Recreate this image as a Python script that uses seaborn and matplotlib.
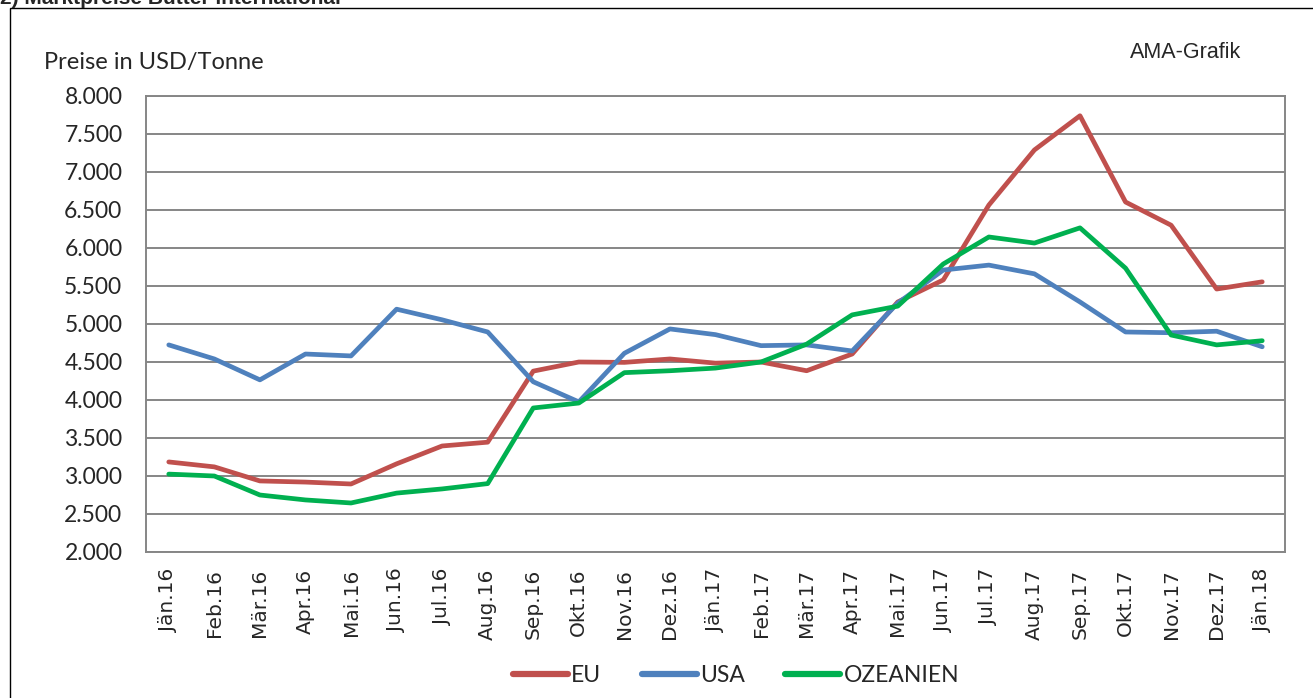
import numpy as np
import pandas as pd
import seaborn as sns
import matplotlib.pyplot as plt
from matplotlib.patches import Rectangle
from matplotlib.ticker import FixedLocator, FuncFormatter

# Marktpreise Butter international, USD/Tonne
months = ['Jän.16', 'Feb.16', 'Mär.16', 'Apr.16', 'Mai.16', 'Jun.16', 'Jul.16', 'Aug.16',
          'Sep.16', 'Okt.16', 'Nov.16', 'Dez.16', 'Jän.17', 'Feb.17', 'Mär.17', 'Apr.17',
          'Mai.17', 'Jun.17', 'Jul.17', 'Aug.17', 'Sep.17', 'Okt.17', 'Nov.17', 'Dez.17', 'Jän.18']
eu = [3185, 3120, 2935, 2920, 2895, 3160, 3395, 3445, 4380, 4500, 4495, 4540, 4485,
      4500, 4385, 4605, 5290, 5580, 6565, 7290, 7740, 6605, 6300, 5460, 5555]
usa = [4725, 4540, 4265, 4605, 4580, 5195, 5055, 4895, 4240, 3975, 4615, 4935, 4860,
       4715, 4725, 4645, 5275, 5710, 5775, 5660, 5290, 4895, 4885, 4905, 4700]
ozeanien = [3025, 3000, 2750, 2685, 2645, 2775, 2830, 2900, 3895, 3960, 4360, 4385, 4420,
            4500, 4735, 5120, 5235, 5790, 6145, 6065, 6265, 5735, 4855, 4725, 4780]

df = pd.DataFrame({'pos': np.arange(len(months)), 'EU': eu, 'USA': usa, 'OZEANIEN': ozeanien})
long = df.melt(id_vars='pos', var_name='Region', value_name='Preis')

sns.set_style('white')
plt.rcParams['font.family'] = ['Lato', 'DejaVu Sans']

fig = plt.figure(figsize=(13.13, 6.98), dpi=100)
ax = fig.add_axes([146 / 1313, 1 - 552 / 698, (1285 - 146) / 1313, (552 - 96) / 698])

pal = {'EU': '#C0504D', 'USA': '#4F81BD', 'OZEANIEN': '#00B050'}
sns.lineplot(data=long, x='pos', y='Preis', hue='Region', palette=pal, linewidth=3.4,
             ax=ax, legend=True)

ax.set_xlim(-0.5, len(months) - 0.5)
ax.set_ylim(2000, 8000)
ax.set_yticks(np.arange(2000, 8001, 500))
ax.yaxis.set_major_formatter(FuncFormatter(lambda v, p: f'{v/1000:.3f}'))
ax.grid(axis='y', color='#868686', linewidth=1.4)
ax.set_axisbelow(True)
for s in ax.spines.values():
    s.set_color('#868686')
    s.set_linewidth(1.4)

ax.set_xticks(np.arange(len(months)))
ax.set_xticklabels(months, rotation=90, family='DejaVu Sans', fontsize=14.5)
ax.xaxis.set_minor_locator(FixedLocator(np.arange(-0.5, len(months), 1)))
ax.tick_params(axis='x', which='major', length=0, pad=12)
ax.tick_params(axis='x', which='minor', length=8, color='#868686', width=1.4, direction='out')
ax.tick_params(axis='y', length=6, color='#868686', width=1.4, direction='out',
               labelsize=16.5, pad=11)
ax.set_xlabel('')
ax.set_ylabel('')

leg = ax.legend(loc='center', bbox_to_anchor=(736 / 1313, 1 - 676 / 698),
                bbox_transform=fig.transFigure, ncol=3, frameon=False,
                fontsize=16.5, handlelength=2.4, handletextpad=0.15, columnspacing=1.75)
for h in leg.get_lines():
    h.set_linewidth(4.5)
    h.set_solid_capstyle('round')

fig.text(44 / 1313, 1 - 63 / 698, 'Preise in USD/Tonne', fontsize=17, va='center', ha='left')
fig.text(1130 / 1313, 1 - 53 / 698, 'AMA-Grafik', fontsize=15.5, va='center', ha='left',
         family='Liberation Sans')
fig.text(0.0, 1 - 4 / 698, '2) Marktpreise Butter international', fontsize=15,
         fontweight='bold', va='baseline', ha='left', family='Liberation Sans')

fig.patches.append(Rectangle((10 / 1313, -0.01), 1.1, 1 - 8 / 698 + 0.01,
                             transform=fig.transFigure, fill=False, edgecolor='black',
                             linewidth=1.0))

fig.savefig('out.png', dpi=100)
